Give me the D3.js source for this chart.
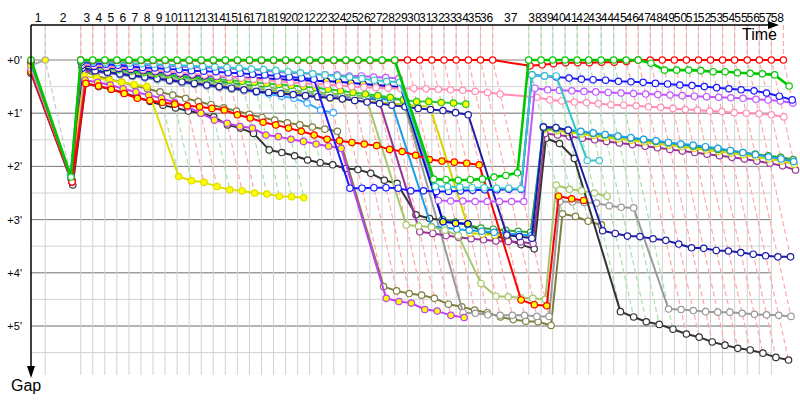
<!DOCTYPE html>
<html><head><meta charset="utf-8">
<script src="https://cdn.jsdelivr.net/npm/d3@7"></script>
<style>body{margin:0;background:#fff}svg{display:block}</style>
</head><body><svg id="c" width="800" height="400"></svg>
<script>
// ---- DATA ----
const lapLabels = [1,2,3,4,5,6,7,8,9,10,11,12,13,14,15,16,17,18,19,20,21,22,23,24,25,26,27,28,29,30,31,32,33,34,35,36,37,38,39,40,41,42,43,44,45,46,47,48,49,50,51,52,53,54,55,56,57,58];
// leader lap times (minutes), laps 1..58
const lapTimes = [1.22,3.03,1.03,1.03,1.03,1.03,1.03,1.03,1.03,1.03,1.03,1.03,1.03,1.03,1.03,1.03,1.03,
 1.03,1.03,1.03,1.03,1.03,1.03,1.03,1.03,1.03,1.03,1.09,1.09,1.04,1.04,1.04,1.04,1.04,1.04,1.04,3.08,
 1.06,0.99,1.06,1.03,0.99,1.06,1.08,1.06,1.03,1.03,1.03,1.03,1.03,1.03,1.03,1.03,1.03,1.08,1.03,1.03,1.03];
// lap line colour per lap: n neutral, r red, g green
const lapLineKind = ["n","r","r","r","r","r","g","g","g","r","r","g","r","r","g","g","g","g","g","g",
 "r","r","r","r","r","r","r","r","r","r","r","r","r","r","r","r","g","g","g","g","g","g","g","g",
 "r","r","r","r","r","r","r","r","r","r","r","r","r","r"];
const gapTicks = [0,1,2,3,4,5];

// gaps (minutes) to leader, index = lap (0..58)
const red = [0.02,2.29,0.00, 0.01,0.01,0.01,0.01,0.01,0.01,0.01,0.01,0.01,0.01,0.01,0.01,0.01,0.01,0.01,0.01,0.01,0.01,0.01,0.01,0.01,0.01,0.01,0.01,0.01,0.01,
 0,0,0,0,0,0,0,0, 0.11,0.09,0.07,0.05,0.05,0.05,0.04,0.04,0.03, 0,0,0,0,0,0,0,0,0,0,0,0,0];
const green = [0.0,2.2,0.0, 0,0,0,0,0,0,0,0,0,0,0,0,0,0,0,0,0,0,0,0,0,0,0,0,0,0,
 2.24,2.25,2.26,2.25,2.24,2.2,2.17,2.12, 0, 0,0,0,0,0,0,0,0, 0.0,0.06,0.19,0.19,0.19,0.2,0.22,0.22,0.24,0.25,0.26,0.28,0.49];
const cyan = [0.1,2.15,0.02, 0.03,0.04,0.05,0.06,0.07,0.08,0.09,0.1,0.11,0.12,0.13,0.14,0.15,0.17,0.18,0.2,0.22,0.24,0.26,0.28,0.3,0.32,0.35,0.38,0.4,0.42,
 2.38,2.38,2.39,2.4,2.4,2.41,2.41,2.42, 0.28,0.3,0.3,1.89,1.89];
const pink = [0.15,2.2,0.08, 0.1,0.12,0.14,0.16,0.18,0.2,0.22,0.24,0.26,0.28,0.3,0.32,0.34,0.36,0.38,0.4,0.42,0.44,0.45,0.46,0.48,0.5,0.51,0.52,0.53,0.54,
 0.53,0.54,0.55,0.56,0.57,0.59,0.61,0.64, 0.7, 0.75,0.77,0.79,0.8,0.82,0.84,0.85,0.86,0.88,0.89,0.91,0.93,0.94,0.96,0.97,0.99,1.0,1.01,1.03,1.07];
const violet = [0.08,2.18,0.03, 0.05,0.06,0.07,0.08,0.09,0.1,0.11,0.12,0.13,0.14,0.15,0.16,0.17,0.18,0.2,0.22,0.24,0.25,0.26,0.28,0.28,0.3,0.3,0.32,0.33,0.35,
 2.64,2.65,2.65,2.66,2.66,2.66,2.66,2.66, 0.53, 0.56,0.57,0.58,0.59,0.6,0.61,0.62,0.63,0.64,0.65,0.66,0.67,0.68,0.69,0.7,0.71,0.72,0.74,0.75,0.77,0.81];
const blue = [0.05,2.2,0.04, 0.06,0.08,0.1,0.12,0.14,0.15,0.17,0.18,0.2,0.21,0.22,0.24,0.25,0.27,0.28,0.3,0.32,0.34,0.36,
 2.41,2.41,2.4,2.4,2.41,2.46,2.46,2.47,2.47,2.46,2.45,2.44,2.44,2.43,2.43, 0.28,
 0.3,0.32,0.34,0.36,0.37,0.38,0.4,0.41,0.42,0.44,0.45,0.47,0.48,0.5,0.52,0.54,0.56,0.58,0.62,0.68,0.75];
const blueYellow = [0.12,2.2,0.1, 0.12,0.14,0.16,0.18,0.2,0.22,0.24,0.26,0.28,0.3,0.31,0.32,0.33,0.34,0.35,0.36,0.37,0.38,0.39,0.4,0.41,0.43,0.45,0.47,0.49,0.51,
 3.04,3.07,3.08];
const navy = [0.18,2.25,0.15, 0.2,0.23,0.26,0.29,0.32,0.35,0.38,0.41,0.44,0.47,0.5,0.53,0.56,0.59,0.61,0.63,0.65,0.67,0.69,0.71,0.73,0.76,0.79,0.82,0.85,
 0.88,0.91,0.93,0.95,0.99,1.03, 3.29,3.32,3.35, 1.26,1.27,1.32,
 3.21,3.26,3.31,3.32,3.36,3.39,3.46,3.53,3.54,3.58,3.59,3.62,3.65,3.68,3.7,3.7];
const black = [0.25,2.35,0.44, 0.5,0.55,0.62,0.7,0.78,0.85,0.9,0.96,1.0,1.07,1.22,1.28,
 1.38,1.69,1.74,1.8,1.88,1.93,1.97,2.04,2.06,2.13,2.26,2.32,
 2.91,2.98,3.01,3.05,3.1,3.2,3.3,3.38,3.47,3.55, 1.47,1.57,1.85,
 4.73,4.83,4.92,4.97,5.06,5.15,5.21,5.3,5.36,5.42,5.45,5.51,5.59,5.64];
const redYellow = [0.22,2.29,0.44, 0.49,0.55,0.63,0.72,0.76,0.8,0.83,0.86,0.88,0.91,0.94,1.03,1.09,1.17,
 1.22,1.28,1.34,1.41,1.49,1.52,1.55,1.58,1.61,1.68,1.72,1.79,1.87,1.9,1.92,1.94,1.97,
 4.51,4.6,4.62, 2.56,2.61,2.64];
const violetYellow = [0.2,2.3,0.38, 0.42,0.47,0.54,0.6,0.66,0.72,0.8,0.88,1.0,
 1.13,1.19,1.25,1.28,1.41,1.44,1.49,1.53,1.58,1.62,1.66, 4.48,4.54,4.57,4.69,4.72,4.8,4.84];
const yellow = [0.15,2.2,0.3, 0.34,0.38,0.42,0.46,0.5, 2.19,2.27,2.3,2.38,2.44,2.46,2.5,2.52,2.56,2.57,2.59];
const olive = [0.2,2.28,0.2, 0.3,0.36,0.42,0.48,0.54,0.6,0.66,0.72,0.78,0.84,0.9,0.96,1.02,1.08,1.13,1.18,1.22,1.26,1.3,1.34,
 4.26,4.34,4.39,4.42,4.48,4.59,4.64,4.7,4.75,4.83,4.88,4.91,4.92,4.99, 2.89,2.94,3.03,3.1];
const gray = [0.18,2.25,0.18, 0.22,0.25,0.28,0.31,0.34,0.37,0.4,0.43,0.46,0.49,0.52,0.55,0.58,0.6,0.62,0.64,0.66,0.68,0.7,0.72,0.74,0.76,0.78,0.8,0.82,0.84,
 4.75,4.76,4.79,4.8,4.8,4.8,4.82,4.82, 2.66,2.67,2.68,2.69,2.74,2.77,2.78,
 4.68,4.69,4.71,4.73,4.74,4.74,4.76,4.78,4.79,4.8,4.82];
const lightGreen = [0.15,2.22,0.12, 0.15,0.18,0.21,0.24,0.27,0.3,0.33,0.36,0.39,0.42,0.45,0.48,0.5,0.52,0.54,0.56,0.58,0.6,0.62,0.64,0.66,0.68,0.7,
 3.1,3.12,3.14,3.2,3.3,4.2,4.44,4.45,4.47,4.48,4.5, 2.35,2.43,2.46,2.5,2.56];
const purple = [0.2,2.25,0.2, 0.22,0.24,0.26,0.28,0.3,0.33,0.36,0.39,0.42,0.45,0.48,0.5,0.52,0.54,0.56,0.58,0.6,0.62,0.64,0.66,0.68,0.7,0.72,0.75,
 3.23,3.26,3.3,3.33,3.36,3.38,3.4,3.41,3.42,3.45, 1.38,
 1.41,1.44,1.47,1.5,1.53,1.56,1.59,1.62,1.65,1.68,1.71,1.74,1.77,1.8,1.83,1.86,1.9,1.94,1.99,2.07];
const lightBlue = [0.12,2.2,0.1, 0.14,0.17,0.2,0.23,0.26,0.29,0.32,0.35,0.38,0.41,0.44,0.47,0.5,0.53,0.55,0.57,0.59,0.61,0.63,0.65,0.67,0.69,0.71,0.73,0.75,
 3.13,3.15,3.18,3.2,3.22,3.24,3.26,3.28,3.3, 1.25,
 1.28,1.31,1.34,1.37,1.4,1.43,1.46,1.49,1.52,1.55,1.58,1.6,1.63,1.66,1.7,1.74,1.78,1.82,1.86,1.91];
const darkGreen = [0.1,2.18,0.08, 0.1,0.13,0.16,0.19,0.22,0.25,0.28,0.31,0.34,0.37,0.4,0.43,0.46,0.49,0.52,0.55,0.57,0.59,0.61,0.63,0.65,0.67,0.69,0.71,0.73,0.75,
 3.0,3.05,3.1,3.16,3.18,3.2,3.22,3.24, 1.28,
 1.29,1.32,1.35,1.38,1.41,1.44,1.47,1.5,1.53,1.56,1.59,1.62,1.65,1.68,1.71,1.74,1.77,1.8,1.83,1.87];
const yellow2 = [0.14,2.2,0.12, 0.15,0.18,0.21,0.24,0.27,0.3,0.33,0.36,0.39,0.42,0.45,0.48,0.51,0.54,0.57,0.6,0.63,0.66,0.69,0.72,0.74,0.76,0.78,0.8,0.82,0.84,0.86,0.88,
 3.25,3.27,3.29,3.3,3.31,3.33, 1.3,
 1.33,1.36,1.39,1.42,1.45,1.48,1.51,1.54,1.57,1.6,1.63,1.66,1.69,1.72,1.75,1.78,1.82,1.86,1.9,1.96];
const limeYellow = [0.1,2.2,0.1, 0.12,0.15,0.18,0.21,0.24,0.26,0.28,0.3,0.32,0.34,0.36,0.38,0.4,0.42,0.44,0.46,0.48,0.5,0.52,0.55,0.58,0.61,0.64,0.67,0.7,
 0.75,0.78,0.78,0.8,0.81,0.83];
const lightBlue2 = [0.15,2.22,0.15, 0.2,0.23,0.26,0.29,0.32,0.35,0.38,0.41,0.44,0.47,0.5,0.53,0.56,0.6,0.64,0.68, 0.72,0.81,0.94,0.99];
const pitStart = [0.1,0];

// ---- drawing ----
const drivers = [
 {g: olive, c:"#7f7f40", f:"#fff"},
 {g: gray, c:"#9a9a9a", f:"#fff"},
 {g: black, c:"#333333", f:"#fff"},
 {g: purple, c:"#993399", f:"#fff"},
 {g: yellow2, c:"#d4d400", f:"#fff"},
 {g: darkGreen, c:"#2fa02f", f:"#fff"},
 {g: lightBlue, c:"#1a9fe6", f:"#fff"},
 {g: lightBlue2, c:"#3aa8ff", f:"#fff"},
 {g: lightGreen, c:"#a6c86a", f:"#fff"},
 {g: navy, c:"#1c1ca6", f:"#fff"},
 {g: limeYellow, c:"#2ec82e", f:"#ffff00"},
 {g: blueYellow, c:"#0000dd", f:"#ffff00"},
 {g: yellow, c:"#dede00", f:"#ffff00"},
 {g: violetYellow, c:"#c040f0", f:"#ffff00"},
 {g: redYellow, c:"#ff0000", f:"#ffff00"},
 {g: pink, c:"#ff8fb4", f:"#fff"},
 {g: violet, c:"#c058ff", f:"#fff"},
 {g: blue, c:"#1a1aff", f:"#fff"},
 {g: cyan, c:"#36c8c8", f:"#fff"},
 {g: pitStart, c:"#aaaaaa", f:"#ffff00"},
 {g: red, c:"#ff0000", f:"#fff"},
 {g: green, c:"#00c800", f:"#fff", w:2.6}
];

const T = [0].concat(Array.from(d3.cumsum(lapTimes)));
const x = d3.scaleLinear().domain([0, T[58]]).range([31, 783.4]);
const y = d3.scaleLinear().domain([0, 6]).range([60, 379.2]);
const svg = d3.select("#c");
const font = "'Liberation Sans', Arial, sans-serif";

const gGrid = svg.append("g");
// horizontal grid
d3.range(0.5, 6, 0.5).forEach(v => {
  gGrid.append("line").attr("x1",31).attr("x2",x(T[57])).attr("y1",y(v)).attr("y2",y(v))
   .attr("stroke","#d2d2d2").attr("stroke-width",1);
});
gapTicks.forEach(v => {
  gGrid.append("line").attr("x1",31).attr("x2",x(T[57])).attr("y1",y(v)).attr("y2",y(v))
   .attr("stroke","#808080").attr("stroke-width",1);
});
// vertical grid
for (let n = 1; n <= 57; n++) {
  gGrid.append("line").attr("x1",x(T[n])).attr("x2",x(T[n])).attr("y1",25).attr("y2",375)
   .attr("stroke","#d2d2d2").attr("stroke-width",1);
}
// lap lines
const kindColor = {n:"#c8c8c8", r:"#ffa8a8", g:"#a8e0a8"};
const gLap = svg.append("g");
for (let n = 1; n <= 58; n++) {
  let mg = 0;
  drivers.forEach(d => { const v = d.g[n]; if (v != null && v > mg) mg = v; });
  const x0 = x(T[n]);
  gLap.append("path")
   .attr("d", `M${x0},25L${x0},${y(0)}L${x(T[n]+mg)},${y(mg)}`)
   .attr("fill","none").attr("stroke", kindColor[lapLineKind[n-1]])
   .attr("stroke-width",1.2).attr("stroke-dasharray","5,3");
}

// driver lines
const pts = d => d.g.map((v,i) => v == null ? null : [i === 0 ? x(0) : x(T[i] + v), y(v)]).filter(p => p);
const line = d3.line();
const gLines = svg.append("g");
drivers.forEach(d => {
  const p = pts(d);
  gLines.append("path").attr("d", line(p)).attr("fill","none")
   .attr("stroke", d.c).attr("stroke-width", d.w || 2).attr("stroke-linejoin","round");
  gLines.selectAll(null).data(p).enter().append("circle")
   .attr("cx", q => q[0]).attr("cy", q => q[1]).attr("r", 3.2)
   .attr("fill", d.f).attr("stroke", d.c).attr("stroke-width", 1.2);
});

// axes
const gAx = svg.append("g");
gAx.append("line").attr("x1",31).attr("x2",772).attr("y1",25).attr("y2",25).attr("stroke","#000").attr("stroke-width",1.5);
gAx.append("path").attr("d","M779,25L768,21L768,29Z").attr("fill","#000");
gAx.append("line").attr("x1",31).attr("x2",31).attr("y1",25).attr("y2",370).attr("stroke","#000").attr("stroke-width",1.5);
gAx.append("path").attr("d","M31,378L27,366L35,366Z").attr("fill","#000");

// lap labels
lapLabels.forEach((lab, i) => {
  gAx.append("text").attr("x", (x(T[i]) + x(T[i+1]))/2).attr("y", 22)
   .attr("text-anchor","middle").attr("font-family",font).attr("font-size",12).text(lab);
});
// gap labels
gapTicks.forEach(v => {
  gAx.append("text").attr("x", 22).attr("y", y(v)+4).attr("text-anchor","end")
   .attr("font-family",font).attr("font-size",11).text("+" + v + "'");
});
gAx.append("text").attr("x",777).attr("y",40).attr("text-anchor","end").attr("font-family",font).attr("font-size",16).text("Time");
gAx.append("text").attr("x",11).attr("y",391).attr("font-family",font).attr("font-size",16).text("Gap");
</script>
</body></html>
